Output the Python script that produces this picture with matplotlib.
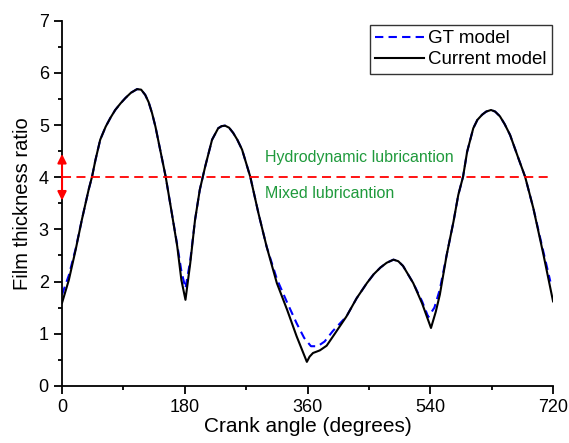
import numpy as np
import matplotlib.pyplot as plt

plt.rcParams['font.family'] = ['Liberation Sans', 'DejaVu Sans']

# Current model (black solid)
cur_angle = [0, 10, 20, 29, 39, 44, 49, 56, 64, 71, 78, 86, 93, 101, 110, 116, 122, 127, 132, 137, 142, 152, 161, 169, 175, 181,
             188, 195, 202, 210, 220, 229, 234, 239, 245, 251, 257, 264, 276, 288, 300, 315, 330, 344, 359,
             363, 368, 378, 388, 400, 417, 432, 447, 457, 467, 476, 486, 493, 500, 515, 528, 541,
             548, 554, 564, 574, 581, 588, 594, 603, 609, 616, 622, 629, 635, 642, 649, 657, 669, 679, 691, 706, 720]
cur_ratio = [1.59, 2.03, 2.61, 3.18, 3.76, 4.01, 4.33, 4.72, 4.97, 5.14, 5.29, 5.42, 5.52, 5.62, 5.69, 5.68, 5.58, 5.44, 5.23, 4.97, 4.65, 4.01, 3.31, 2.67, 2.03, 1.65,
             2.35, 3.18, 3.76, 4.21, 4.72, 4.94, 4.98, 4.99, 4.95, 4.85, 4.72, 4.53, 4.01, 3.31, 2.67, 1.97, 1.46, 0.95, 0.46,
             0.56, 0.63, 0.68, 0.77, 1.0, 1.33, 1.68, 1.97, 2.14, 2.27, 2.36, 2.42, 2.39, 2.3, 1.97, 1.58, 1.11,
             1.42, 1.75, 2.51, 3.15, 3.66, 4.01, 4.49, 4.94, 5.1, 5.2, 5.26, 5.29, 5.26, 5.17, 5.02, 4.81, 4.37, 4.01, 3.41, 2.51, 1.62]

# GT model (blue dashed)
gt_angle = [0, 10, 20, 29, 39, 44, 49, 56, 64, 71, 78, 86, 93, 101, 110, 116, 122, 127, 132, 137, 142, 152, 161, 169, 175, 181,
            188, 195, 202, 210, 220, 229, 234, 239, 245, 251, 257, 264, 276, 288, 300, 315, 330, 344, 355,
            365, 375, 385, 397, 417, 432, 447, 457, 467, 476, 486, 493, 500, 515, 528, 537,
            546, 554, 564, 574, 581, 588, 594, 603, 609, 616, 622, 629, 635, 642, 649, 657, 669, 679, 691, 706, 716]
gt_ratio = [1.75, 2.12, 2.63, 3.18, 3.76, 4.01, 4.33, 4.72, 4.97, 5.14, 5.29, 5.42, 5.52, 5.62, 5.69, 5.68, 5.58, 5.44, 5.23, 4.97, 4.65, 4.01, 3.31, 2.7, 2.2, 1.87,
            2.4, 3.18, 3.76, 4.21, 4.72, 4.94, 4.98, 4.99, 4.95, 4.85, 4.72, 4.53, 4.01, 3.31, 2.67, 2.05, 1.6, 1.2, 0.92,
            0.76, 0.76, 0.85, 1.05, 1.33, 1.68, 1.97, 2.14, 2.27, 2.36, 2.42, 2.39, 2.3, 1.97, 1.62, 1.32,
            1.5, 1.85, 2.51, 3.15, 3.66, 4.01, 4.49, 4.94, 5.1, 5.2, 5.26, 5.29, 5.26, 5.17, 5.02, 4.81, 4.37, 4.01, 3.41, 2.56, 2.0]

threshold = 4
arrow_span = (3.5, 4.5)

fig = plt.figure(figsize=(5.69, 4.43), dpi=100)
ax = fig.add_axes([0.109, 0.129, 0.863, 0.824])

ax.plot(gt_angle, gt_ratio, color='blue', linestyle=(0, (4, 2.5)), linewidth=1.5, label='GT model')
ax.plot(cur_angle, cur_ratio, color='black', linewidth=1.5, label='Current model')

ax.plot([0, 720], [threshold, threshold], color='red', linestyle=(0, (5, 3)), linewidth=1.3)
ax.annotate('', xy=(0, arrow_span[1]), xytext=(0, arrow_span[0]),
            arrowprops=dict(arrowstyle='<|-|>', color='red', lw=1.5, mutation_scale=13))

green = '#1f9a3c'
ax.text(298, 4.37, 'Hydrodynamic lubricantion', color=green, fontsize=11.5, va='center', ha='left')
ax.text(298, 3.68, 'Mixed lubricantion', color=green, fontsize=11.5, va='center', ha='left')

ax.set_xlim(0, 720)
ax.set_ylim(0, 7)
ax.set_xticks([0, 180, 360, 540, 720])
ax.set_xticks([90, 270, 450, 630], minor=True)
ax.set_yticks(range(0, 8))
ax.set_yticks(np.arange(0.5, 7, 1), minor=True)
ax.spines['top'].set_visible(False)
ax.spines['right'].set_visible(False)
ax.spines['left'].set_linewidth(1.3)
ax.spines['bottom'].set_linewidth(1.3)
ax.tick_params(which='major', length=6, width=1.3, labelsize=13)
ax.tick_params(which='minor', length=3, width=1.3)

ax.set_xlabel('Crank angle (degrees)', fontsize=15, labelpad=1)
ax.set_ylabel('Film thickness ratio', fontsize=14.5, labelpad=5)

leg = ax.legend(loc='upper right', bbox_to_anchor=(1.005, 1.0), fontsize=13.5, frameon=True, fancybox=False,
                borderpad=0.3, handlelength=2.6, handletextpad=0.2, labelspacing=0.2, borderaxespad=0.2)
leg.get_frame().set_edgecolor('black')
leg.get_frame().set_linewidth(1.0)

plt.savefig('out.png', dpi=100)
